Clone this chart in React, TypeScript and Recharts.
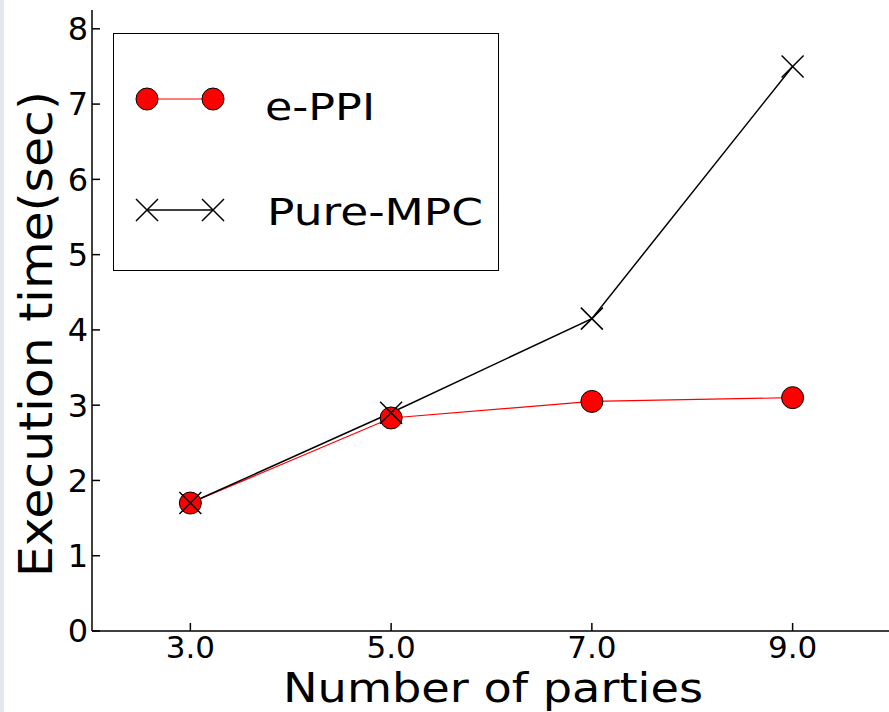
import React from "react";
import { LineChart, Line, XAxis, YAxis } from "recharts";

// values
const parties = [3, 5, 7, 9];
const eppiTimes = [1.7, 2.83, 3.05, 3.1];
const pureMpcTimes = [1.7, 2.9, 4.15, 7.5];
const xTicks = [3, 5, 7, 9];
const yTicks = [0, 1, 2, 3, 4, 5, 6, 7, 8];

const FONT = "'DejaVu Sans', sans-serif";

const data = parties.map((x, i) => ({
  x,
  eppi: eppiTimes[i],
  pure: pureMpcTimes[i],
}));

const axisStroke = { stroke: "#000", strokeWidth: 1.5 };

// matplotlib style "x" marker
const CrossDot = (props: any) => {
  const { cx, cy, index } = props;
  if (cx == null || cy == null) return null;
  const s = 11;
  return (
    <path
      key={`x-${index}`}
      d={`M${cx - s},${cy - s}L${cx + s},${cy + s}M${cx - s},${cy + s}L${cx + s},${cy - s}`}
      stroke="#000"
      strokeWidth={1.5}
      fill="none"
    />
  );
};

function LegendBox() {
  return (
    <div
      style={{
        position: "absolute",
        left: 113,
        top: 33,
        width: 386,
        height: 238,
        boxSizing: "border-box",
        border: "1.5px solid #000",
        background: "#fff",
      }}
    >
      <svg width={386} height={238} style={{ position: "absolute", left: -1.5, top: -1.5 }}>
        <line x1={34} y1={66} x2={100} y2={66} stroke="#ff0000" strokeWidth={1.2} />
        <circle cx={34} cy={66} r={11} fill="#ff0000" stroke="#000" strokeWidth={1} />
        <circle cx={100} cy={66} r={11} fill="#ff0000" stroke="#000" strokeWidth={1} />
        <text x={152} y={87} fontFamily={FONT} fontSize={38} fill="#000" textLength={110} lengthAdjust="spacingAndGlyphs">
          e-PPI
        </text>
        <line x1={34} y1={177} x2={100} y2={177} stroke="#000" strokeWidth={1.5} />
        <CrossDot cx={34} cy={177} index={0} />
        <CrossDot cx={100} cy={177} index={1} />
        <text x={154} y={192} fontFamily={FONT} fontSize={38} fill="#000" textLength={216} lengthAdjust="spacingAndGlyphs">
          Pure-MPC
        </text>
      </svg>
    </div>
  );
}

export default function App() {
  return (
    <div
      style={{
        position: "relative",
        width: 889,
        height: 712,
        overflow: "hidden",
        background: "#fff",
        fontFamily: FONT,
      }}
    >
      <style>{"html, body { margin: 0; padding: 0; overflow: hidden; }"}</style>
      <LineChart
        width={900}
        height={712}
        data={data}
        margin={{ top: 10, right: 0, bottom: 0, left: 0 }}
      >
        <XAxis
          xAxisId="bottom"
          dataKey="x"
          type="number"
          domain={[2.02, 10.02]}
          ticks={xTicks}
          tickFormatter={(v: number) => v.toFixed(1)}
          height={81}
          tickSize={-8}
          tickMargin={13}
          axisLine={axisStroke}
          tickLine={axisStroke}
          tick={{ fill: "#000", fontSize: 31, fontFamily: FONT }}
          allowDataOverflow
        />
        <XAxis
          xAxisId="top"
          orientation="top"
          type="number"
          domain={[2.02, 10.02]}
          ticks={xTicks}
          height={0}
          tickSize={-8}
          tick={false}
          axisLine={axisStroke}
          tickLine={axisStroke}
          allowDataOverflow
        />
        <YAxis
          yAxisId="left"
          type="number"
          domain={[0, 8.25]}
          ticks={yTicks}
          width={92}
          tickSize={-8}
          tickMargin={12}
          axisLine={axisStroke}
          tickLine={axisStroke}
          tick={{ fill: "#000", fontSize: 32, fontFamily: FONT }}
          allowDataOverflow
        />
        <YAxis
          yAxisId="right"
          orientation="right"
          type="number"
          domain={[0, 8.25]}
          ticks={yTicks}
          width={5}
          tickSize={-8}
          tick={false}
          axisLine={axisStroke}
          tickLine={axisStroke}
          allowDataOverflow
        />
        <Line
          xAxisId="bottom"
          yAxisId="left"
          dataKey="eppi"
          stroke="#ff0000"
          strokeWidth={1.2}
          dot={{ r: 11, fill: "#ff0000", stroke: "#000", strokeWidth: 1 }}
          activeDot={false}
          isAnimationActive={false}
        />
        <Line
          xAxisId="bottom"
          yAxisId="left"
          dataKey="pure"
          stroke="#000"
          strokeWidth={1.5}
          dot={<CrossDot />}
          activeDot={false}
          isAnimationActive={false}
        />
      </LineChart>

      {/* axis titles */}
      <svg
        width={889}
        height={712}
        style={{ position: "absolute", left: 0, top: 0, pointerEvents: "none" }}
      >
        <text
          x={493}
          y={702}
          textAnchor="middle"
          fontFamily={FONT}
          fontSize={40}
          fill="#000"
          textLength={420}
          lengthAdjust="spacingAndGlyphs"
        >
          Number of parties
        </text>
        <text
          transform="translate(52,334) rotate(-90)"
          textAnchor="middle"
          fontFamily={FONT}
          fontSize={46}
          fill="#000"
          textLength={486}
          lengthAdjust="spacingAndGlyphs"
        >
          Execution time(sec)
        </text>
      </svg>

      <LegendBox />

      {/* thin page strip on the far left */}
      <div
        style={{
          position: "absolute",
          left: 0,
          top: 0,
          width: 4,
          height: 712,
          background: "#e4e8ee",
        }}
      />
    </div>
  );
}
